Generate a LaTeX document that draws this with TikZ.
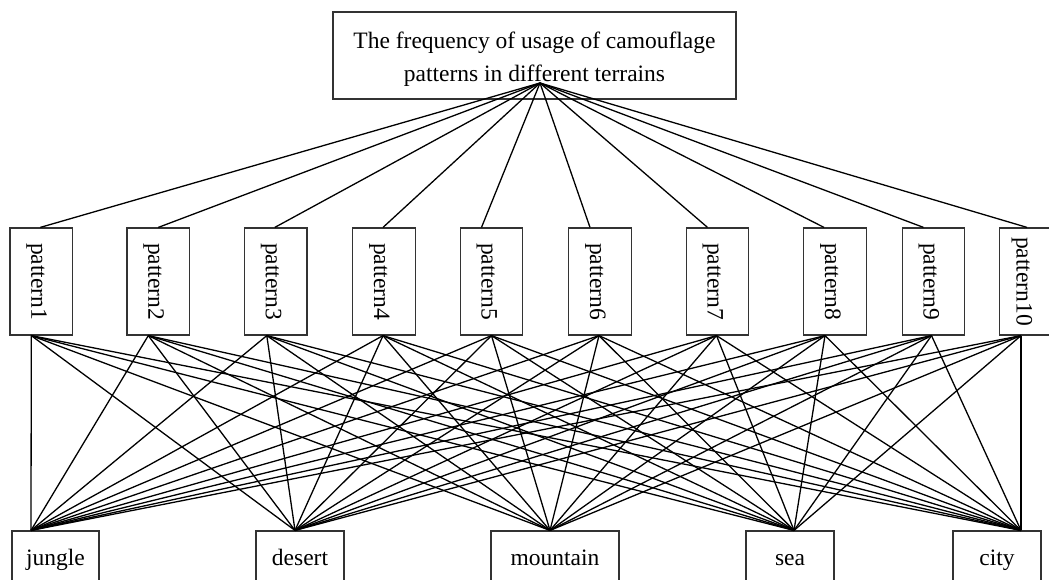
\documentclass[tikz,border=0pt]{standalone}
\usepackage{fontspec}
\setmainfont{Liberation Serif}
\usepackage{tikz}

\begin{document}
\begin{tikzpicture}[x=1pt,y=-1pt]
\tikzstyle{titlebox}=[rectangle,draw=black!80,line width=1.2pt,align=center,minimum width=403pt,minimum height=87pt,inner sep=0pt,font=\fontsize{23.5}{33}\selectfont]
\tikzstyle{patbox}=[rectangle,draw=black!80,line width=1.2pt,rotate=-90,minimum width=107pt,minimum height=62.5pt,inner sep=0pt,text height=25pt,text depth=5pt,font=\fontsize{23.5}{28}\selectfont]
\tikzstyle{terrbox}=[rectangle,draw=black!80,line width=1.2pt,minimum height=57pt,inner sep=0pt,text height=16pt,text depth=5pt,font=\fontsize{23.5}{28}\selectfont]
\tikzstyle{link}=[line width=1.3pt]
\useasboundingbox (0,0) rectangle (1049,579);
\clip (0,0) rectangle (1049,579);
% root
\node [titlebox] (top) at (534.5,55.5) {\rule{0pt}{23pt}The frequency of usage of camouflage\\patterns in different terrains};
% patterns
\node [patbox] (p1) at (41.3,281.5) {pattern1};
\node [patbox] (p2) at (158.3,281.5) {pattern2};
\node [patbox] (p3) at (275.8,281.5) {pattern3};
\node [patbox] (p4) at (384,281.5) {pattern4};
\node [patbox] (p5) at (491.5,281.5) {pattern5};
\node [patbox] (p6) at (600,281.5) {pattern6};
\node [patbox] (p7) at (717.5,281.5) {pattern7};
\node [patbox] (p8) at (835,281.5) {pattern8};
\node [patbox] (p9) at (933.5,281.5) {pattern9};
\node [patbox,text height=34pt] (p10) at (1031,281.5) {pattern10};
% terrains
\node [terrbox,minimum width=87pt] (jungle) at (55.5,559.5) {jungle};
\node [terrbox,minimum width=88pt] (desert) at (300,559.5) {desert};
\node [terrbox,minimum width=128pt] (mountain) at (555,559.5) {mountain};
\node [terrbox,minimum width=88pt] (sea) at (790,559.5) {sea};
\node [terrbox,minimum width=88pt] (city) at (997,559.5) {city};
% links
\foreach \i/\t in {1/-1,2/0,3/-1,4/-1,5/-10,6/-10,7/-10,8/-11,9/-10,10/-4}
  \draw [link] ([xshift=5.5pt,yshift=-27.5pt]top.center) -- ([xshift=\t pt]p\i.west);
\foreach \i/\b in {1/-10,2/-10,3/-9,4/-1,5/0,6/-1,7/-1,8/-10,9/-2,10/-10}
  \foreach \j/\c in {jungle/-24.5,desert/-5,mountain/-5,sea/4,city/24}
    \draw [link] ([xshift=\b pt]p\i.east) -- ([xshift=\c pt]\j.north);
\end{tikzpicture}
\end{document}
